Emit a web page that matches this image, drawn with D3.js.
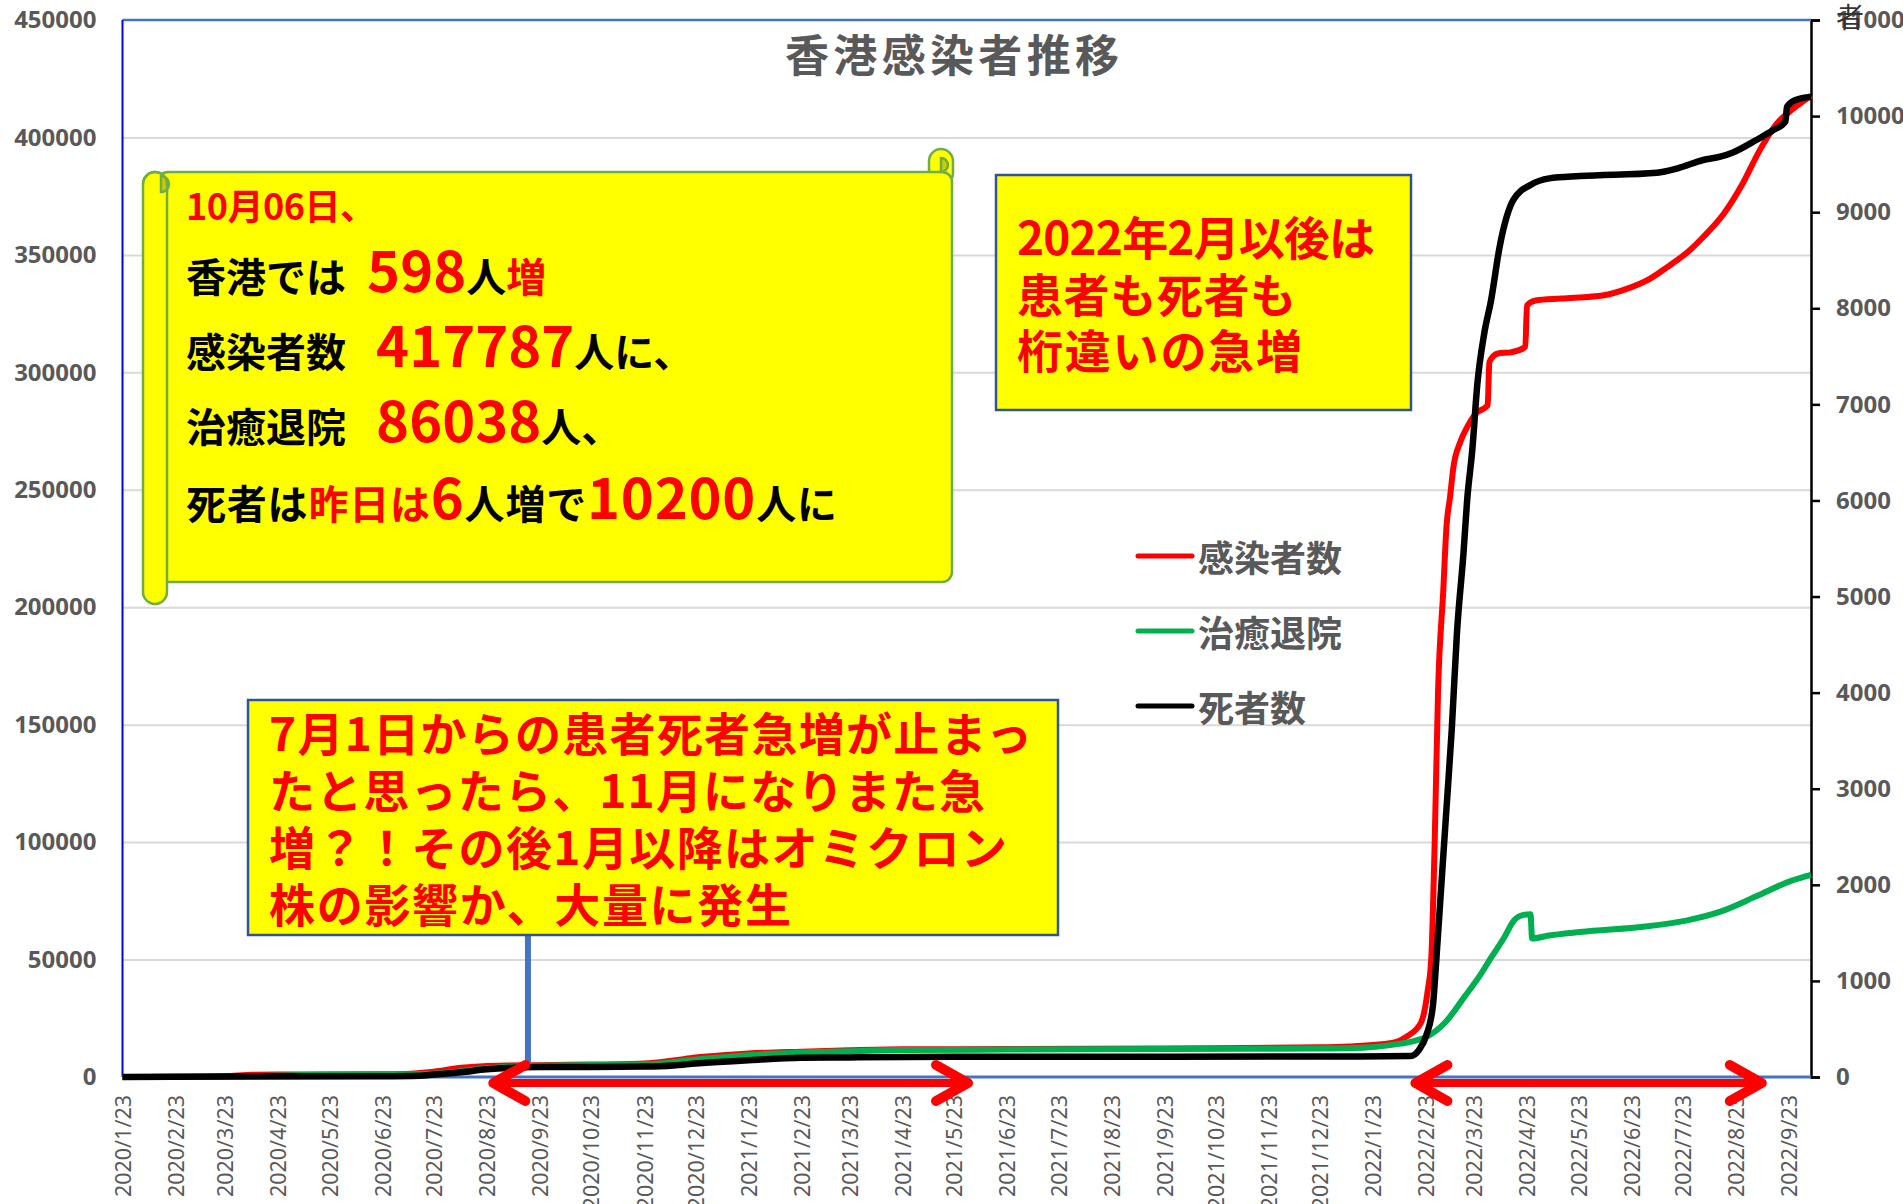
<!DOCTYPE html>
<html><head><meta charset="utf-8">
<script src="https://cdn.jsdelivr.net/npm/d3@7"></script>
<style>html,body{margin:0;padding:0;background:#fff;} svg{display:block;}</style>
</head><body>
<svg id="chart" width="1903" height="1204"></svg>
<script>
// ---------- data ----------
const tickLabels = ["2020/1/23","2020/2/23","2020/3/23","2020/4/23","2020/5/23","2020/6/23","2020/7/23","2020/8/23","2020/9/23","2020/10/23","2020/11/23","2020/12/23",
  "2021/1/23","2021/2/23","2021/3/23","2021/4/23","2021/5/23","2021/6/23","2021/7/23","2021/8/23","2021/9/23","2021/10/23","2021/11/23","2021/12/23",
  "2022/1/23","2022/2/23","2022/3/23","2022/4/23","2022/5/23","2022/6/23","2022/7/23","2022/8/23","2022/9/23"];
const leftTicks = [0,50000,100000,150000,200000,250000,300000,350000,400000,450000];
const rightTicks = [0,1000,2000,3000,4000,5000,6000,7000,8000,9000,10000,11000];
const seriesNames = ["感染者数","治癒退院","死者数"];
const seriesColors = ["#ff0000","#00b050","#000000"];

// 感染者数 (left axis)
const cases = [["2020-01-23",1],["2020-02-23",70],["2020-03-23",360],["2020-04-08",935],["2020-04-23",1035],["2020-06-23",1180],
  ["2020-07-06",1300],["2020-07-23",2250],["2020-08-08",3900],["2020-08-23",4700],["2020-09-23",5050],["2020-10-23",5300],
  ["2020-11-15",5500],["2020-11-23",5700],["2020-12-10",7000],["2020-12-23",8300],["2021-01-10",9400],["2021-01-23",10000],
  ["2021-02-23",10800],["2021-03-23",11400],["2021-04-23",11800],["2021-06-23",11900],["2021-09-23",12150],["2021-12-23",12650],
  ["2022-01-09",13000],["2022-02-03",14500],["2022-02-12",17400],["2022-02-20",23100],["2022-02-24",37000],["2022-02-26",50100],
  ["2022-02-28",98900],["2022-03-02",164200],["2022-03-05",206400],["2022-03-07",235000],["2022-03-09",246900],["2022-03-11",259700],
  ["2022-03-15",270300],["2022-03-19",276700],["2022-03-24",282400],["2022-03-31",286000],["2022-04-01",304400],["2022-04-06",308000],
  ["2022-04-14",308600],["2022-04-22",310800],["2022-04-23",328500],["2022-04-28",330600],["2022-05-13",331400],["2022-06-07",332800],
  ["2022-06-19",335200],["2022-07-04",339900],["2022-07-14",344800],["2022-07-27",351900],["2022-08-04",357600],["2022-08-16",367500],
  ["2022-08-27",380300],["2022-09-06",394500],["2022-09-16",405900],["2022-09-22",410100],["2022-10-06",417787]];

// 治癒退院 (left axis)
const recovered = [["2020-01-23",0],["2020-02-23",30],["2020-03-23",120],["2020-04-23",600],["2020-05-23",1030],["2020-06-23",1100],
  ["2020-07-23",1400],["2020-08-23",3700],["2020-09-23",4800],["2020-10-23",5100],["2020-11-23",5300],["2020-12-23",7400],
  ["2021-01-23",9300],["2021-02-23",10400],["2021-03-23",11000],["2021-04-23",11500],["2021-06-23",11700],["2021-09-23",11950],
  ["2021-12-23",12150],["2022-01-09",12250],["2022-02-08",14200],["2022-02-24",17400],["2022-03-06",23100],["2022-03-17",33700],
  ["2022-03-26",42700],["2022-04-02",50800],["2022-04-10",59800],["2022-04-15",66300],["2022-04-21",69000],["2022-04-25",69300],
  ["2022-04-26",59000],["2022-05-05",60100],["2022-05-24",61700],["2022-07-04",64300],["2022-07-25",66600],["2022-08-14",70400],
  ["2022-09-04",76900],["2022-09-24",83400],["2022-10-06",86038]];

// 死者数 (right axis)
const deaths = [["2020-01-23",0],["2020-03-23",4],["2020-06-23",7],["2020-07-15",12],["2020-07-23",25],["2020-08-08",50],
  ["2020-08-23",80],["2020-09-23",103],["2020-10-23",105],["2020-11-23",109],["2020-12-10",120],["2020-12-23",140],
  ["2021-01-23",175],["2021-02-23",200],["2021-03-23",204],["2021-05-23",210],["2021-12-23",213],["2022-01-09",214],
  ["2022-02-14",219],["2022-02-19",286],["2022-02-23",426],["2022-02-27",744],["2022-03-01",1225],["2022-03-04",2020],
  ["2022-03-07",2816],["2022-03-10",3613],["2022-03-13",4608],["2022-03-17",5485],["2022-03-19",6003],["2022-03-22",6524],
  ["2022-03-25",7218],["2022-03-29",7739],["2022-04-02",8085],["2022-04-07",8640],["2022-04-15",9127],["2022-04-25",9283],
  ["2022-05-06",9352],["2022-05-24",9376],["2022-07-08",9411],["2022-07-20",9456],["2022-08-04",9543],["2022-08-14",9577],
  ["2022-08-21",9619],["2022-09-04",9751],["2022-09-14",9855],["2022-09-21",9942],["2022-09-22",10098],["2022-09-27",10168],
  ["2022-10-06",10200]];

// annotation anchor dates
const arrowSpans = [["2020-08-25","2021-06-02"],["2022-02-15","2022-09-09"]];
const connectorDate = "2020-09-16";

// ---------- layout ----------
const L = 122.5, R = 1811, T = 20, B = 1077;
const svg = d3.select("#chart");
const parse = d3.timeParse("%Y-%m-%d");
const parseTick = s => { const [y,m,d] = s.split("/").map(Number); return new Date(y, m-1, d); };

const x = d3.scaleTime().domain([parse("2020-01-23"), parse("2022-10-06")]).range([L, R]);
const yL = d3.scaleLinear().domain([0, 450000]).range([B, T]);
const yR = d3.scaleLinear().domain([0, 11000]).range([B, T]);

const numFont = "'Noto Sans', 'Liberation Sans', sans-serif";
const jpFont = "'Noto Sans CJK JP', 'Noto Sans', sans-serif";

// gridlines
const grid = svg.append("g").attr("transform", `translate(${L},0)`)
  .call(d3.axisLeft(yL).tickValues(leftTicks.filter(v => v > 0 && v < 450000)).tickSize(-(R - L)).tickFormat(""));
grid.select(".domain").remove();
grid.selectAll("line").attr("stroke", "#d9d9d9").attr("stroke-width", 2);

// left axis labels
const gL = svg.append("g").attr("transform", `translate(${L},0)`)
  .call(d3.axisLeft(yL).tickValues(leftTicks).tickSize(0).tickPadding(26).tickFormat(d3.format("d")));
gL.select(".domain").remove();
gL.selectAll("text").attr("font-family", numFont).attr("font-size", 24).attr("font-weight", "bold").attr("fill", "#595959");

// right axis
const gR = svg.append("g").attr("transform", `translate(${R},0)`)
  .call(d3.axisRight(yR).tickValues(rightTicks).tickSize(9).tickPadding(16).tickFormat(d3.format("d")));
gR.select(".domain").attr("stroke", "#000").attr("stroke-width", 2.5);
gR.selectAll("line").attr("stroke", "#000").attr("stroke-width", 2.5);
gR.selectAll("text").attr("font-family", numFont).attr("font-size", 24).attr("font-weight", "bold").attr("fill", "#595959");

// x axis
const tickDates = tickLabels.map(parseTick);
const gX = svg.append("g").attr("transform", `translate(0,${B})`)
  .call(d3.axisBottom(x).tickValues(tickDates).tickSize(0).tickFormat((d, i) => tickLabels[i]));
gX.select(".domain").remove();
gX.selectAll("text")
  .attr("transform", "rotate(-90)")
  .attr("text-anchor", "end")
  .attr("x", -18).attr("y", 0).attr("dy", "0.36em")
  .attr("font-family", numFont).attr("font-size", 21.5).attr("fill", "#595959");

// plot frame
svg.append("line").attr("x1", L).attr("x2", R).attr("y1", T).attr("y2", T).attr("stroke", "#4472c4").attr("stroke-width", 2.5);
svg.append("line").attr("x1", L).attr("x2", L).attr("y1", T).attr("y2", B).attr("stroke", "#0000ff").attr("stroke-width", 2);
svg.append("line").attr("x1", L).attr("x2", R).attr("y1", B).attr("y2", B).attr("stroke", "#4472c4").attr("stroke-width", 3);

// title
svg.append("text").attr("x", 952).attr("y", 72).attr("text-anchor", "middle")
  .attr("font-family", jpFont).attr("font-size", 44).attr("font-weight", "bold").attr("fill", "#595959")
  .attr("textLength", 334).attr("lengthAdjust", "spacing")
  .text("香港感染者推移");

// hidden axis title fragment at top right
svg.append("text").attr("x", 1836).attr("y", 28).attr("font-family", jpFont).attr("font-size", 28)
  .attr("fill", "#333").text("者");

// ---------- series ----------
const lineL = d3.line().x(d => x(parse(d[0]))).y(d => yL(d[1])).curve(d3.curveMonotoneX);
const lineR = d3.line().x(d => x(parse(d[0]))).y(d => yR(d[1])).curve(d3.curveMonotoneX);
svg.append("path").datum(cases).attr("d", lineL).attr("fill", "none").attr("stroke", seriesColors[0]).attr("stroke-width", 6).attr("stroke-linejoin", "round");
svg.append("path").datum(recovered).attr("d", lineL).attr("fill", "none").attr("stroke", seriesColors[1]).attr("stroke-width", 6).attr("stroke-linejoin", "round");
svg.append("path").datum(deaths).attr("d", lineR).attr("fill", "none").attr("stroke", seriesColors[2]).attr("stroke-width", 6.5).attr("stroke-linejoin", "round");

// ---------- legend ----------
const lg = svg.append("g");
seriesNames.forEach((name, i) => {
  const yy = 556 + i * 75;
  lg.append("line").attr("x1", 1138).attr("x2", 1192).attr("y1", yy).attr("y2", yy)
    .attr("stroke", seriesColors[i]).attr("stroke-width", 5).attr("stroke-linecap", "round");
  lg.append("text").attr("x", 1198).attr("y", yy).attr("dominant-baseline", "central")
    .attr("font-family", jpFont).attr("font-size", 36).attr("font-weight", "bold").attr("fill", "#595959").text(name);
});

// ---------- scroll box ----------
const scroll = svg.append("g").attr("stroke", "#70ad47").attr("stroke-width", 2.5);
scroll.append("rect").attr("x", 929).attr("y", 149).attr("width", 24).attr("height", 36).attr("rx", 12).attr("fill", "#ffff00");
scroll.append("rect").attr("x", 158).attr("y", 172).attr("width", 794).attr("height", 410).attr("rx", 10).attr("fill", "#ffff00");
scroll.append("path").attr("d", "M941,158 a7,7 0 1,1 0,14 z").attr("fill", "#cccc00");
scroll.append("rect").attr("x", 143).attr("y", 172).attr("width", 24).attr("height", 432).attr("rx", 12).attr("fill", "#ffff00");
scroll.append("path").attr("d", "M161,176 a8,8 0 1,1 0,16 z").attr("fill", "#cccc00");
scroll.append("path").attr("d", "M143,184 a12,12 0 0,1 24,0 v8").attr("fill", "none");

function richLine(y, segs, len) {
  const t = svg.append("text").attr("x", 186).attr("y", y).attr("font-family", jpFont).attr("font-weight", "bold");
  if (len) t.attr("textLength", len).attr("lengthAdjust", "spacing");
  segs.forEach(s => {
    const ts = t.append("tspan").attr("font-size", s[2]).attr("fill", s[1]).text(s[0]);
    if (s[3]) ts.attr("dx", s[3]);
  });
}
richLine(220, [["10月06日、", "#ff0000", 36]], 190);
richLine(292, [["香港では ", "#000", 40], ["598", "#ff0000", 56, 12], ["人", "#000", 40], ["増", "#ff0000", 40]]);
richLine(367, [["感染者数 ", "#000", 40], ["417787", "#ff0000", 56, 21], ["人に、", "#000", 40]]);
richLine(442, [["治癒退院 ", "#000", 40], ["86038", "#ff0000", 56, 21], ["人、", "#000", 40]]);
richLine(519, [["死者は", "#000", 40], ["昨日は", "#ff0000", 40], ["6", "#ff0000", 56], ["人増で", "#000", 40], ["10200", "#ff0000", 56], ["人に", "#000", 40]], 651);

// ---------- right note box ----------
svg.append("rect").attr("x", 996).attr("y", 175).attr("width", 415).attr("height", 235)
  .attr("fill", "#ffff00").attr("stroke", "#2f5597").attr("stroke-width", 2.5);
[["2022年2月以後は", 358], ["患者も死者も", 279], ["桁違いの急増", 285]].forEach((l, i) => {
  svg.append("text").attr("x", 1017).attr("y", 235 + i * 56.5).attr("dominant-baseline", "central")
    .attr("font-family", jpFont).attr("font-size", 46).attr("font-weight", "bold").attr("fill", "#ff0000")
    .attr("textLength", l[1]).attr("lengthAdjust", "spacing").text(l[0]);
});

// ---------- bottom note box + connector ----------
const cx = x(parse(connectorDate));
svg.append("line").attr("x1", cx).attr("x2", cx).attr("y1", 934).attr("y2", 1062).attr("stroke", "#4472c4").attr("stroke-width", 6);
svg.append("rect").attr("x", 248).attr("y", 700).attr("width", 810).attr("height", 235)
  .attr("fill", "#ffff00").attr("stroke", "#2f5597").attr("stroke-width", 2.5);
[["7月1日からの患者死者急増が止まっ", 763], ["たと思ったら、11月になりまた急", 716], ["増？！その後1月以降はオミクロン", 738], ["株の影響か、大量に発生", 522]].forEach((l, i) => {
  svg.append("text").attr("x", 269).attr("y", 731 + i * 57).attr("dominant-baseline", "central")
    .attr("font-family", jpFont).attr("font-size", 46).attr("font-weight", "bold").attr("fill", "#ff0000")
    .attr("textLength", l[1]).attr("lengthAdjust", "spacing").text(l[0]);
});

// ---------- red double arrows ----------
const ay = 1083;
arrowSpans.forEach(s => {
  const x0 = x(parse(s[0])), x1 = x(parse(s[1]));
  const g = svg.append("g").attr("stroke", "#ff0000").attr("fill", "none").attr("stroke-linecap", "round").attr("stroke-linejoin", "round");
  g.append("line").attr("x1", x0 + 4).attr("x2", x1 - 4).attr("y1", ay).attr("y2", ay).attr("stroke-width", 8);
  g.append("path").attr("d", `M${x0 + 35},${ay - 18} L${x0 + 3},${ay} L${x0 + 35},${ay + 18}`).attr("stroke-width", 10);
  g.append("path").attr("d", `M${x1 - 35},${ay - 18} L${x1 - 3},${ay} L${x1 - 35},${ay + 18}`).attr("stroke-width", 10);
});
</script>
</body></html>
